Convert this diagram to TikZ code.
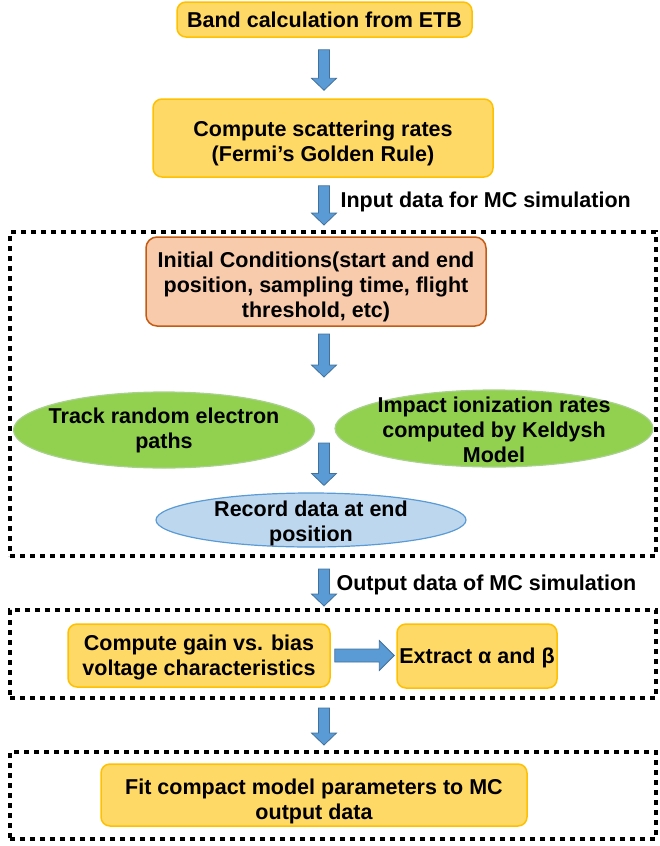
\documentclass[tikz,border=0pt]{standalone}
\usepackage{fontspec}
\setmainfont{Liberation Sans}
\usetikzlibrary{shapes.geometric,calc}

\definecolor{boxfill}{HTML}{FFD966}
\definecolor{boxline}{HTML}{FFC000}
\definecolor{initfill}{HTML}{F8CBAD}
\definecolor{initline}{HTML}{C55A11}
\definecolor{greenfill}{HTML}{92D050}
\definecolor{greenline}{HTML}{A9D18E}
\definecolor{bluefill}{HTML}{BDD7EE}
\definecolor{blueline}{HTML}{5B9BD5}
\definecolor{arrowfill}{HTML}{5B9BD5}
\definecolor{arrowline}{HTML}{41719C}

\newcommand{\blockdown}[2]{%
  \draw[blockarrow] let \p1=#1, \p2=#2 in
    (\x1-5.5pt,\y1) -- (\x1+5.5pt,\y1) -- (\x1+5.5pt,\y2+12pt) -- (\x1+12.5pt,\y2+12pt)
    -- (\x1,\y2) -- (\x1-12.5pt,\y2+12pt) -- (\x1-5.5pt,\y2+12pt) -- cycle;}
\newcommand{\blockright}[2]{%
  \draw[blockarrow] let \p1=#1, \p2=#2 in
    (\x1,\y1+6.5pt) -- (\x2-15pt,\y1+6.5pt) -- (\x2-15pt,\y1+15pt) -- (\x2,\y1)
    -- (\x2-15pt,\y1-15pt) -- (\x2-15pt,\y1-6.5pt) -- (\x1,\y1-6.5pt) -- cycle;}

\begin{document}
\begin{tikzpicture}[x=1pt, y=-1pt,
    every node/.style={font=\fontsize{21.5}{25}\selectfont\bfseries, align=center},
    txt/.style 2 args={label={[align=center, yshift=#1]center:{#2}}},
    goldbox/.style={draw=boxline, fill=boxfill, line width=1.5pt, rounded corners=9pt, inner sep=0pt},
    initbox/.style={draw=initline, fill=initfill, line width=1.5pt, rounded corners=11pt, inner sep=0pt},
    greenell/.style={ellipse, draw=greenline, fill=greenfill, line width=1.2pt, inner sep=0pt},
    blueell/.style={ellipse, draw=blueline, fill=bluefill, line width=1.2pt, inner sep=0pt},
    frame/.style={draw=black, line width=4pt, dash pattern=on 5pt off 5pt, inner sep=0pt},
    blockarrow/.style={draw=arrowline, fill=arrowfill, line width=0.8pt, line join=miter}]
    \useasboundingbox (0,0) rectangle (659,846);

    \node [frame, minimum width=646pt, minimum height=324pt] (mcframe) at (333,394) {};
    \node [frame, minimum width=646pt, minimum height=88pt] (gainframe) at (333,654) {};
    \node [frame, minimum width=646pt, minimum height=87pt] (fitframe) at (333,795.5) {};

    \node [goldbox, minimum width=295pt, minimum height=35pt,
        txt={0pt}{Band calculation from ETB}] (band) at (324.5,19.5) {};
    \node [goldbox, minimum width=340pt, minimum height=78pt,
        txt={-5pt}{Compute scattering rates\\(Fermi’s Golden Rule)}] (scatter) at (323,138) {};
    \node [initbox, minimum width=340pt, minimum height=89pt,
        txt={-5pt}{Initial Conditions(start and end\\position, sampling time, flight\\threshold, etc)}] (init) at (316,281.5) {};
    \node [greenell, minimum width=301pt, minimum height=76pt,
        txt={0pt}{Track random electron\\paths}] (track) at (164,430) {};
    \node [greenell, minimum width=318pt, minimum height=77pt,
        txt={-1pt}{Impact ionization rates\\computed by Keldysh\\Model}] (impact) at (494,428.5) {};
    \node [blueell, minimum width=310pt, minimum height=54pt,
        txt={-3pt}{Record data at end\\position}] (record) at (311,520) {};
    \node [goldbox, minimum width=262pt, minimum height=63pt,
        txt={-2pt}{Compute gain vs. bias\\voltage characteristics}] (gain) at (199,655.5) {};
    \node [goldbox, minimum width=160pt, minimum height=64pt,
        txt={-2pt}{Extract α and β}] (extract) at (477,656) {};
    \node [goldbox, minimum width=426pt, minimum height=62pt,
        txt={-6pt}{Fit compact model parameters to MC\\output data}] (fit) at (314,795) {};

    \node [anchor=west] (inlabel) at (337,202) {Input data for MC simulation};
    \node [anchor=west] (outlabel) at (333,585) {Output data of MC simulation};

    \coordinate (spine) at (324,0);
    \coordinate (initout) at (324,334);
    \coordinate (ellin) at (324,377);
    \coordinate (ellout) at (324,443);

    \blockdown{($(spine |- band.south)+(0,12)$)}{($(spine |- scatter.north)+(0,-8)$)}
    \blockdown{($(spine |- scatter.south)+(0,8)$)}{($(spine |- mcframe.north)+(0,-5)$)}
    \blockdown{(initout)}{(ellin)}
    \blockdown{(ellout)}{($(spine |- record.north)+(0,-7)$)}
    \blockdown{($(spine |- mcframe.south)+(0,11)$)}{($(spine |- gainframe.north)+(0,-2)$)}
    \blockdown{($(spine |- gainframe.south)+(0,8)$)}{($(spine |- fitframe.north)+(0,-5)$)}
    \blockright{($(gain.east)+(4,0)$)}{($(extract.west)+(-2,0)$)}
\end{tikzpicture}
\end{document}
